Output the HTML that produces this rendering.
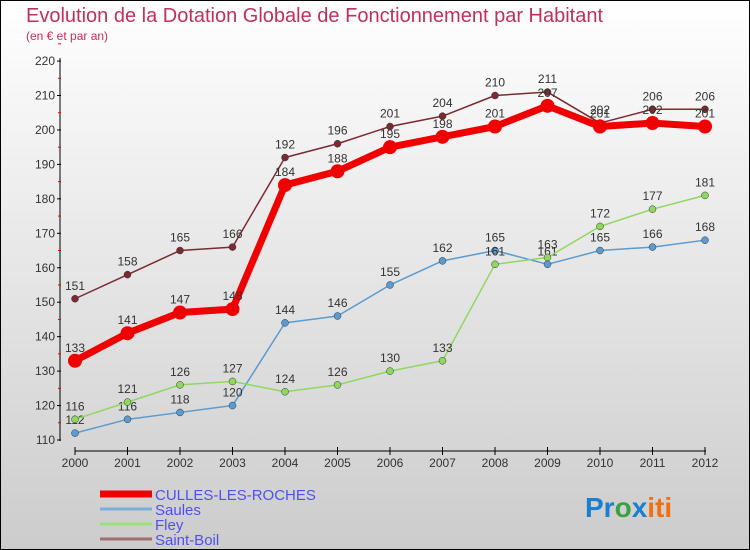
<!DOCTYPE html>
<html><head><meta charset="utf-8"><style>
body{margin:0}
#c{width:750px;height:550px;position:relative;background:linear-gradient(#fff,#ccc);box-sizing:border-box;border:1px solid #000;font-family:"Liberation Sans",sans-serif;overflow:hidden}
</style></head><body>
<div id="c">
<svg id="s" width="750" height="550" style="position:absolute;left:-1px;top:-1px">
<text x="26" y="22" font-size="20" fill="#c0305a">Evolution de la Dotation Globale de Fonctionnement par Habitant</text>
<text x="26" y="40" font-size="12" fill="#c0305a">(en € et par an)</text>
<g id="axes"></g><g id="series"></g>
<text x="585" y="517" font-size="28" font-weight="bold"><tspan fill="#1a7fd0">Pr</tspan><tspan fill="#3aa040">o</tspan><tspan fill="#1a7fd0">x</tspan><tspan fill="#f07010">iti</tspan></text>
</svg>
</div>
<script>
const years=[2000,2001,2002,2003,2004,2005,2006,2007,2008,2009,2010,2011,2012];
const yTicks=[110,120,130,140,150,160,170,180,190,200,210,220];
const culles=[133,141,147,148,184,188,195,198,201,207,201,202,201];
const saules=[112,116,118,120,144,146,155,162,165,161,165,166,168];
const fley=[116,121,126,127,124,126,130,133,161,163,172,177,181];
const saintBoil=[151,158,165,166,192,196,201,204,210,211,202,206,206];
const NS='http://www.w3.org/2000/svg';
const X=i=>75+i*52.5, Y=v=>440-(v-110)*3.445;
function mk(t,a,p){const e=document.createElementNS(NS,t);for(const k in a)e.setAttribute(k,a[k]);p.appendChild(e);return e;}
const ax=document.getElementById('axes');
const ya=mk('line',{x1:60,y1:58,x2:60,y2:441,stroke:'#000'},ax);

const xa=mk('line',{x1:75,y1:451,x2:706,y2:451,stroke:'#000'},ax);

yTicks.forEach(v=>{mk('line',{x1:57,y1:Y(v),x2:61,y2:Y(v),stroke:'#000'},ax);
 mk('line',{x1:58,y1:Y(v+5),x2:61,y2:Y(v+5),stroke:'#e00'},ax);
 const t=mk('text',{x:55,y:Y(v)+4,'font-size':12,fill:'#333','text-anchor':'end'},ax);t.textContent=v;
 });
years.forEach((y,i)=>{mk('line',{x1:X(i),y1:447,x2:X(i),y2:455,stroke:'#000'},ax);
 const t=mk('text',{x:X(i),y:467,'font-size':12,fill:'#333','text-anchor':'middle'},ax);t.textContent=y;
 });
const sg=document.getElementById('series');
const defs=[['saules',saules,'#5b9bd0',1.5,3.5],['fley',fley,'#8fd860',1.5,3.5],['saint-boil',saintBoil,'#7a2a30',1.5,3.5],['culles-les-roches',culles,'#f00000',7,7]];
const leg=[['CULLES-LES-ROCHES','#f00000',7],['Saules','#7aaed8',3],['Fley','#9ee078',3],['Saint-Boil','#a07070',3]];
defs.forEach(([n,d,c,w,r])=>{
 const p=mk('polyline',{points:d.map((v,i)=>X(i)+','+Y(v)).join(' '),fill:'none',stroke:c,'stroke-width':w,'stroke-linejoin':'round'},sg);
 
 d.forEach((v,i)=>{const ci=mk('circle',{cx:X(i),cy:Y(v),r:r,fill:c,stroke:n==='culles-les-roches'?'none':'#333','stroke-width':0.5},sg);
  
  const t=mk('text',{x:X(i),y:Y(v)-9,'font-size':12,fill:'#333','text-anchor':'middle'},sg);t.textContent=v;
  });
});
leg.forEach(([n,c,w],i)=>{const y=494+i*15;
 const l=mk('line',{x1:100,y1:y,x2:152,y2:y,stroke:c,'stroke-width':w},sg);
 
 const t=mk('text',{x:155,y:y+6,'font-size':15,fill:'#5050f0'},sg);t.textContent=n;
 });
</script>
</body></html>
